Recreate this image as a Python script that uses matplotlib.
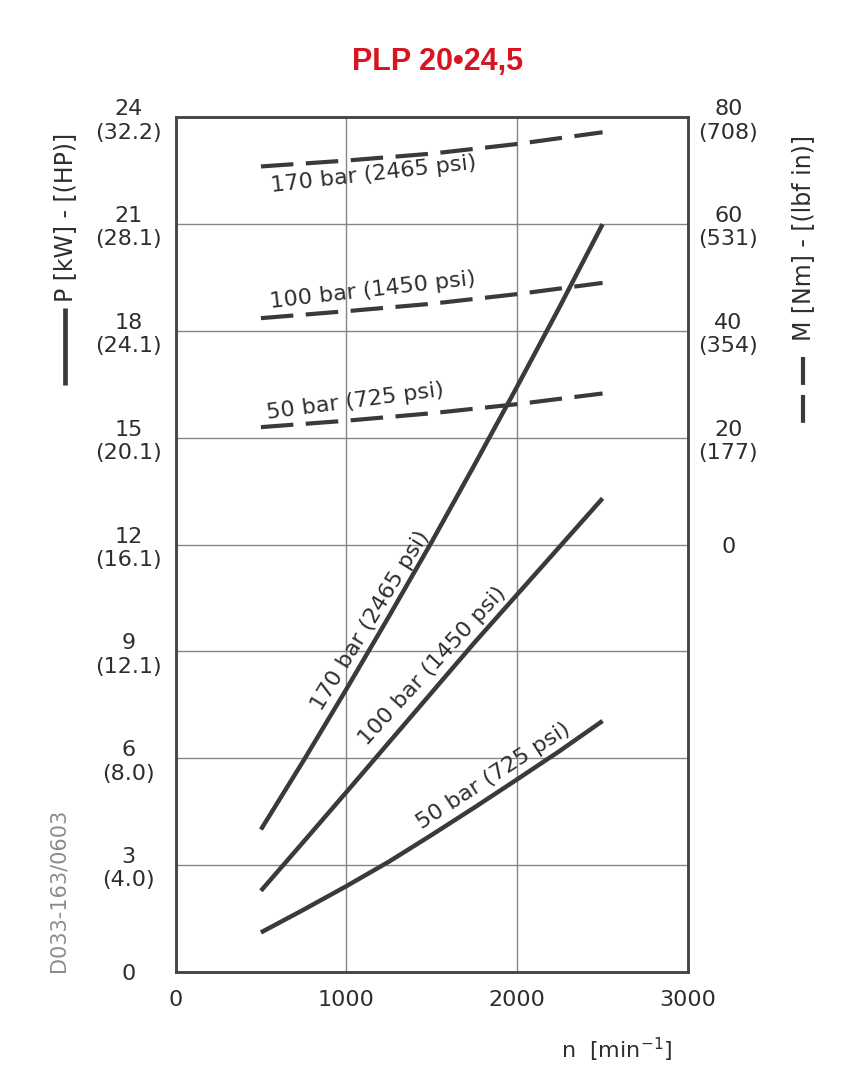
import matplotlib
matplotlib.use('Agg')
import matplotlib.pyplot as plt
from matplotlib.lines import Line2D

plt.rcParams['font.family'] = ['DejaVu Sans']

# ---------------- data ----------------
rpm = [500, 750, 1000, 1250, 1500, 1750, 2000, 2250, 2500]
power_170 = [4.0, 5.94, 7.94, 9.99, 12.08, 14.24, 16.44, 18.69, 21.0]
power_100 = [2.28, 3.66, 5.05, 6.45, 7.85, 9.25, 10.6, 11.95, 13.3]
power_50 = [1.11, 1.75, 2.41, 3.1, 3.85, 4.62, 5.41, 6.21, 7.05]

rpm_t = [500, 1000, 1500, 2000, 2500]
torque_170 = [70.8, 71.9, 73.2, 75.0, 77.2]
torque_100 = [42.4, 43.7, 45.1, 46.9, 49.0]
torque_50 = [22.0, 23.2, 24.6, 26.3, 28.3]

x_ticks = [0, 1000, 2000, 3000]
p_ticks = [0, 3, 6, 9, 12, 15, 18, 21, 24]
p_labels = ["0", "3\n(4.0)", "6\n(8.0)", "9\n(12.1)", "12\n(16.1)",
            "15\n(20.1)", "18\n(24.1)", "21\n(28.1)", "24\n(32.2)"]
m_ticks = [0, 20, 40, 60, 80]
m_labels = ["0", "20\n(177)", "40\n(354)", "60\n(531)", "80\n(708)"]

label_170 = "170 bar (2465 psi)"
label_100 = "100 bar (1450 psi)"
label_50 = "50 bar (725 psi)"

# ---------------- figure ----------------
W, H = 849, 1080
fig = plt.figure(figsize=(W / 100, H / 100), dpi=100)
ax = fig.add_axes([175.5 / W, 108 / H, 512.5 / W, 854.7 / H])
ax.set_xlim(0, 3000)
ax.set_ylim(0, 24)
ax2 = ax.twinx()
ax2.set_ylim(-80, 80)

line_col = '#3a3a3a'
txt_col = '#2e2e2e'
fs = 16

ax.set_xticks(x_ticks)
ax.set_xticklabels([str(v) for v in x_ticks])
ax.set_yticks(p_ticks)
ax.set_yticklabels(p_labels, ha='center', multialignment='center')
ax.grid(True, color='#858585', lw=1.0)
ax.tick_params(axis='x', length=0, pad=13, labelsize=fs, labelcolor=txt_col)
ax.tick_params(axis='y', length=0, pad=34, labelsize=fs, labelcolor=txt_col)

ax2.set_yticks(m_ticks)
ax2.set_yticklabels(m_labels, ha='center', multialignment='center')
ax2.tick_params(axis='y', length=0, pad=29, labelsize=fs, labelcolor=txt_col)

for a in (ax, ax2):
    for s in a.spines.values():
        s.set_color('#454545')
        s.set_linewidth(1.8)

# power (solid)
for p in (power_170, power_100, power_50):
    ax.plot(rpm, p, color=line_col, lw=3.2, solid_capstyle='butt')

# torque (dashed)
for t in (torque_170, torque_100, torque_50):
    ax2.plot(rpm_t, t, color=line_col, lw=3.0, linestyle=(0, (7.8, 3.0)))

# labels on curves
tk = dict(rotation_mode='anchor', ha='left', va='baseline', fontsize=fs, color=txt_col)
ax.text(565, 21.91, label_170, rotation=6.5, **tk)
ax.text(554, 18.64, label_100, rotation=6.5, **tk)
ax.text(538, 15.52, label_50, rotation=7.5, **tk)
ax.text(853, 7.30, label_170, rotation=58.5, **tk)
ax.text(1119, 6.33, label_100, rotation=47.5, **tk)
ax.text(1441, 4.0, label_50, rotation=33, **tk)

# title
fig.text(437.5 / W, 1 - 62 / H, "PLP 20•24,5", color='#d7141f', fontsize=22,
         fontweight='bold', family=['Liberation Sans Narrow', 'Liberation Sans', 'DejaVu Sans'],
         ha='center', va='center')

# axis titles
fig.text(65 / W, 1 - 217 / H, "P [kW] - [(HP)]", rotation=90, ha='center', va='center',
         fontsize=17, color=txt_col)
fig.add_artist(Line2D([65 / W, 65 / W], [1 - 308 / H, 1 - 385 / H], transform=fig.transFigure,
                      color=line_col, lw=3.4, solid_capstyle='butt'))
fig.text(803 / W, 1 - 238 / H, "M [Nm] - [(lbf in)]", rotation=90, ha='center', va='center',
         fontsize=17, color=txt_col)
fig.add_artist(Line2D([803 / W, 803 / W], [1 - 357 / H, 1 - 423 / H], transform=fig.transFigure,
                      color=line_col, lw=3.0, linestyle=(0, (6.7, 2.4))))

fig.text(617 / W, 1 - 1050 / H, r"n  [min$^{-1}$]", ha='center', va='center',
         fontsize=fs, color=txt_col)

fig.text(58 / W, 1 - 890 / H, "D033-163/0603", rotation=90, ha='center', va='center',
         fontsize=15, color='#8c8c8c')

fig.savefig('out.png', dpi=100)
